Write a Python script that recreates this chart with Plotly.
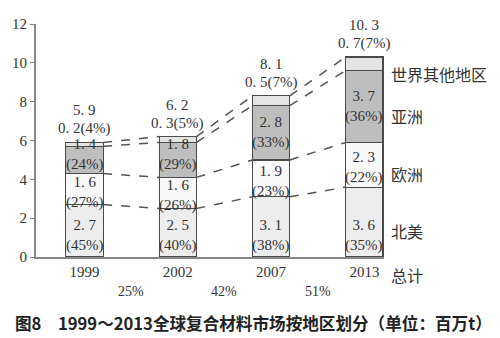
import plotly.graph_objects as go

years = ["1999", "2002", "2007", "2013"]
north_america = [2.7, 2.5, 3.1, 3.6]
europe = [1.6, 1.6, 1.9, 2.3]
asia = [1.4, 1.8, 2.8, 3.7]
rest = [0.2, 0.3, 0.5, 0.7]
pct_na = [45, 40, 38, 35]
pct_eu = [27, 26, 23, 22]
pct_asia = [24, 29, 33, 36]
pct_rest = [4, 5, 7, 7]
totals = [5.9, 6.2, 8.1, 10.3]
growth = ["25%", "42%", "51%"]
region_names = ["北美", "欧洲", "亚洲", "世界其他地区"]
y_ticks = [0, 2, 4, 6, 8, 10, 12]

FONT = "Liberation Serif, Noto Sans CJK SC"
CJK = "Noto Sans CJK SC"
TXT = "#333333"
x = list(range(len(years)))
BW = 0.4

L, R, T, B = 29, 116, 24, 81
PW, PH = 500 - L - R, 338 - T - B


def fmt(v):
    return f"{v:.1f}".replace(".", ". ")


fig = go.Figure()
series = [
    (north_america, "#ededed"),
    (europe, "#f8f8f8"),
    (asia, "#bebebe"),
    (rest, "#e4e4e4"),
]
for (vals, col), name in zip(series, region_names):
    fig.add_trace(go.Bar(x=x, y=vals, width=BW, name=name,
                         marker=dict(color=col, line=dict(color="#4a4a4a", width=1.2)),
                         showlegend=False, hoverinfo="skip"))

cum = []
run = [0.0] * len(years)
for vals, _ in series:
    run = [r + v for r, v in zip(run, vals)]
    cum.append(list(run))

lx, ly = [], []
for b in cum:
    for i in range(len(years) - 1):
        lx += [i + BW / 2, i + 1 - BW / 2, None]
        ly += [b[i], b[i + 1], None]
fig.add_trace(go.Scatter(x=lx, y=ly, mode="lines", line=dict(color="#555555", width=1.5, dash="dash"),
                         showlegend=False, hoverinfo="skip"))

ann = []
lab_font = dict(family=FONT, size=15, color=TXT)
# North America labels: sit near the bottom of the bar
for i in range(len(years)):
    ann.append(dict(x=i, y=0, text=f"{fmt(north_america[i])}<br>({pct_na[i]}%)", showarrow=False,
                    yanchor="bottom", yshift=1, font=lab_font))
# Europe labels: centred, slightly low
for i in range(len(years)):
    ann.append(dict(x=i, y=north_america[i] + europe[i] / 2, text=f"{fmt(europe[i])}<br>({pct_eu[i]}%)",
                    showarrow=False, yshift=-3, font=lab_font))
# Asia labels: centred, nudged up in short segments
for i in range(len(years)):
    ys = 5 if asia[i] < 2 else 0
    ann.append(dict(x=i, y=north_america[i] + europe[i] + asia[i] / 2, text=f"{fmt(asia[i])}<br>({pct_asia[i]}%)",
                    showarrow=False, yshift=ys, font=lab_font))
for i in range(len(years)):
    top = cum[-1][i]
    ann.append(dict(x=i, y=top, text=f"{fmt(rest[i])}({pct_rest[i]}%)", showarrow=False, yanchor="bottom",
                    yshift=3, font=lab_font))
    ann.append(dict(x=i, y=top, text=fmt(totals[i]), showarrow=False, yanchor="bottom",
                    yshift=22, font=lab_font))
last = len(years) - 1
base_l = 0.0
for vals, name in zip([north_america, europe, asia, rest], region_names):
    yy = base_l + vals[last] / 2
    ys = -9
    if name == "世界其他地区":
        yy = base_l
        ys = -3
    ann.append(dict(x=last + BW / 2, y=yy, text=name, showarrow=False, xanchor="left", xshift=6, yshift=ys,
                    font=dict(family=CJK, size=16, color=TXT)))
    base_l += vals[last]
ann.append(dict(x=last + BW / 2, y=0, text="总计", showarrow=False, xanchor="left", yanchor="top", xshift=6,
                yshift=-4, font=dict(family=CJK, size=16, color=TXT)))
for i, g in enumerate(growth):
    ann.append(dict(x=i + 0.5, y=0, text=g, showarrow=False, yanchor="top", yshift=-25,
                    font=dict(family=FONT, size=14, color=TXT)))
ann.append(dict(x=(6 - L) / PW, y=(338 - B - 323) / PH, xref="paper", yref="paper",
                text="<b>图8　1999～2013全球复合材料市场按地区划分（单位：百万t）</b>",
                showarrow=False, xanchor="left", yanchor="middle",
                font=dict(family=CJK, size=16.6, color="#222222")))

fig.update_layout(
    width=500, height=338,
    margin=dict(l=L, r=R, t=T, b=B),
    paper_bgcolor="white", plot_bgcolor="white",
    barmode="stack",
    annotations=ann,
    xaxis=dict(range=[-0.52, 3.21], tickvals=x, ticktext=years, showgrid=False, zeroline=False,
               showline=True, linecolor="#888888", linewidth=2, ticks="",
               tickfont=dict(family=FONT, size=15, color=TXT)),
    yaxis=dict(range=[0, 12], tickvals=y_ticks, showgrid=False, zeroline=False, showline=True,
               linecolor="#888888", linewidth=2, ticks="outside", ticklen=4, tickcolor="#888888",
               tickfont=dict(family=FONT, size=15, color=TXT)),
)
fig.write_html("out.html")
